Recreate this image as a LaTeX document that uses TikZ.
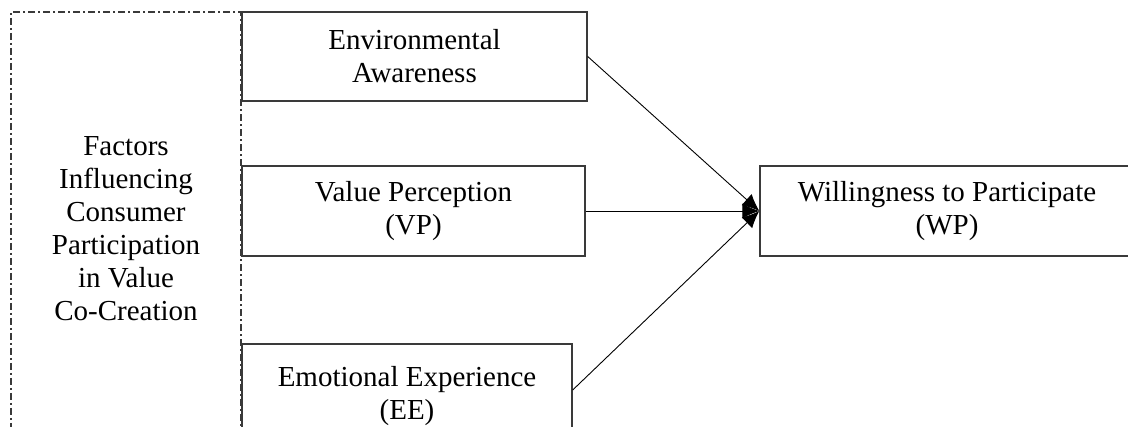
\documentclass[tikz,border=0pt]{standalone}
\usepackage{fontspec}
\setmainfont{Liberation Serif}
\usetikzlibrary{arrows.meta}
\definecolor{boxgray}{HTML}{3A3A3A}
\tikzset{
  txt/.style={font=\fontsize{29}{33}\selectfont, align=center},
  factorbox/.style={txt, draw=boxgray, line width=1.4pt, rectangle, inner sep=0pt},
  groupframe/.style={txt, draw=boxgray, line width=1.2pt, rectangle, inner sep=0pt,
    dash pattern=on 7pt off 3pt on 2pt off 3pt},
  link/.style={draw=black, line width=0.9pt, -{Latex[length=17pt,width=15pt]}}
}
\begin{document}
\begin{tikzpicture}[x=1pt,y=-1pt]
\useasboundingbox (0,0) rectangle (1128,427);
\clip (0,0) rectangle (1128,427);
\fill[white] (0,0) rectangle (1128,427);
\node[groupframe, minimum width=230pt, minimum height=434pt] (grp) at (126,229)
  {Factors\\Influencing\\Consumer\\Participation\\in Value\\Co-Creation};
\node[factorbox, minimum width=345pt, minimum height=89pt] (ea) at (414.5,56.5)
  {Environmental\\Awareness};
\node[factorbox, minimum width=343pt, minimum height=90pt] (vp) at (413.5,211)
  {Value Perception\\(VP)};
\node[factorbox, minimum width=330pt, minimum height=104pt] (ee) at (407,396)
  {Emotional Experience\\(EE)};
\node[factorbox, minimum width=374pt, minimum height=90pt] (wp) at (947,211)
  {Willingness to Participate\\(WP)};
\coordinate (eeout) at ([yshift=6pt]ee.east);
\draw[link] (ea.east) -- (wp.west);
\draw[link] (vp.east) -- (wp.west);
\draw[link] (eeout) -- (wp.west);
\end{tikzpicture}
\end{document}
